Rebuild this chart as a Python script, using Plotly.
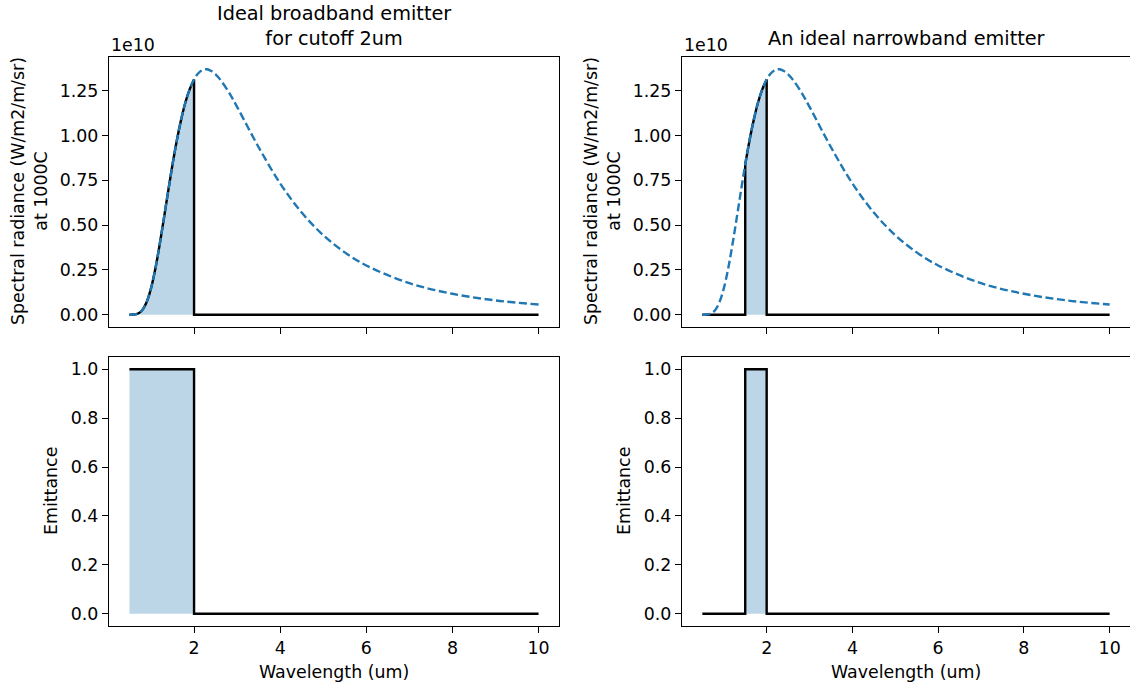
import plotly.graph_objects as go

# ---- data ----
wavelength = [0.5, 0.6, 0.7, 0.8, 0.9, 1.0, 1.1, 1.2, 1.3, 1.4, 1.5, 1.6, 1.7, 1.8, 1.9, 2.0,
              2.1, 2.2, 2.3, 2.4, 2.5, 2.6, 2.8, 3.0, 3.5, 4.0, 4.5, 5.0, 5.5, 6.0, 7.0, 8.0, 9.0, 10.0]
# spectral radiance in units of 1e10 W/m2/m/sr
radiance = [0.0001, 0.001, 0.0069, 0.0266, 0.071, 0.147, 0.255, 0.389, 0.538, 0.691, 0.839, 0.973,
            1.089, 1.186, 1.259, 1.313, 1.348, 1.366, 1.370, 1.360, 1.342, 1.315, 1.245, 1.160,
            0.935, 0.733, 0.570, 0.444, 0.348, 0.275, 0.176, 0.117, 0.080, 0.057]

broad_band = [0.5, 2.0]     # emittance = 1 inside this band
narrow_band = [1.5, 2.0]
emit_on = 1.0
emit_off = 0.0
x_end = 10.0

titles = ["Ideal broadband emitter<br>for cutoff 2um", "An ideal narrowband emitter"]
top_yticks = [0, 0.25, 0.5, 0.75, 1.0, 1.25]
bot_yticks = [0, 0.2, 0.4, 0.6, 0.8, 1.0]
x_ticks = [2, 4, 6, 8, 10]

BLUE = "#1f77b4"
FILL = "#bcd6e8"
FONT = "DejaVu Sans"
FS = 17.4
FS_TITLE = 19.3
LW = 2.4
W, H = 1130, 688

fig = go.Figure()


def band_curve(lo, hi):
    xs = [x for x in wavelength if lo <= x <= hi]
    ys = [y for x, y in zip(wavelength, radiance) if lo <= x <= hi]
    return xs, ys


for col, band in enumerate([broad_band, narrow_band]):
    xa_top = "x%d" % (col + 1) if col else "x"
    ya_top = "y%d" % (col + 1) if col else "y"
    xa_bot = "x%d" % (col + 3)
    ya_bot = "y%d" % (col + 3)
    lo, hi = band
    bx, by = band_curve(lo, hi)
    # top: fill under emitted radiance
    fig.add_trace(go.Scatter(x=bx, y=by, mode="lines", line=dict(width=0, shape="spline"),
                             fill="tozeroy", fillcolor=FILL, xaxis=xa_top, yaxis=ya_top,
                             showlegend=False, hoverinfo="skip"))
    # top: black emitted radiance
    if lo > wavelength[0]:
        fig.add_trace(go.Scatter(x=[wavelength[0], lo, lo], y=[emit_off, emit_off, by[0]],
                                 mode="lines", line=dict(color="black", width=LW),
                                 xaxis=xa_top, yaxis=ya_top, showlegend=False))
    fig.add_trace(go.Scatter(x=bx, y=by, mode="lines",
                             line=dict(color="black", width=LW, shape="spline"),
                             xaxis=xa_top, yaxis=ya_top, showlegend=False))
    fig.add_trace(go.Scatter(x=[hi, hi, x_end], y=[by[-1], emit_off, emit_off], mode="lines",
                             line=dict(color="black", width=LW),
                             xaxis=xa_top, yaxis=ya_top, showlegend=False))
    # top: blackbody dashed
    fig.add_trace(go.Scatter(x=wavelength, y=radiance, mode="lines",
                             line=dict(color=BLUE, width=LW, shape="spline", dash="8px,3.6px"),
                             xaxis=xa_top, yaxis=ya_top, showlegend=False))
    # bottom: emittance fill + step
    fig.add_trace(go.Scatter(x=[lo, hi], y=[emit_on, emit_on], mode="lines", line=dict(width=0),
                             fill="tozeroy", fillcolor=FILL, xaxis=xa_bot, yaxis=ya_bot,
                             showlegend=False, hoverinfo="skip"))
    if lo > wavelength[0]:
        ex = [wavelength[0], lo, lo, hi, hi, x_end]
        ey = [emit_off, emit_off, emit_on, emit_on, emit_off, emit_off]
    else:
        ex = [lo, hi, hi, x_end]
        ey = [emit_on, emit_on, emit_off, emit_off]
    fig.add_trace(go.Scatter(x=ex, y=ey, mode="lines", line=dict(color="black", width=LW),
                             xaxis=xa_bot, yaxis=ya_bot, showlegend=False))

xdom = [[109 / W, 559 / W], [682 / W, 1.0]]
ydom_top = [1 - 327 / H, 1 - 57 / H]
ydom_bot = [1 - 626 / H, 1 - 357 / H]

axis_common = dict(showline=True, mirror=True, linecolor="black", linewidth=1.3,
                   ticks="outside", ticklen=6, tickwidth=1.3, tickcolor="black",
                   showgrid=False, zeroline=False,
                   tickfont=dict(family=FONT, size=FS, color="black"))

layout = dict(width=W, height=H, margin=dict(l=0, r=0, t=0, b=0),
              plot_bgcolor="white", paper_bgcolor="white",
              font=dict(family=FONT, size=FS, color="black"))

names = [("xaxis", "yaxis"), ("xaxis2", "yaxis2"), ("xaxis3", "yaxis3"), ("xaxis4", "yaxis4")]
for i, (xn, yn) in enumerate(names):
    col = i % 2
    top = i < 2
    xref = "y" if i == 0 else "y%d" % (i + 1)
    yref = "x" if i == 0 else "x%d" % (i + 1)
    layout[xn] = dict(axis_common, domain=xdom[col], range=[0.025, 10.475], anchor=xref,
                      tickvals=x_ticks, showticklabels=not top)
    if top:
        layout[yn] = dict(axis_common, domain=ydom_top, range=[-0.0685, 1.4385], anchor=yref,
                          tickvals=top_yticks, tickformat=".2f")
    else:
        layout[yn] = dict(axis_common, domain=ydom_bot, range=[-0.05, 1.05], anchor=yref,
                          tickvals=bot_yticks, tickformat=".1f")

fig.update_layout(**layout)

ann = []
centers = [(109 + 559) / 2 / W, (682 + 1130) / 2 / W]
for col in range(2):
    ann.append(dict(text=titles[col], x=centers[col], y=1 - 52.5 / H, xref="paper", yref="paper",
                    xanchor="center", yanchor="bottom", showarrow=False,
                    font=dict(family=FONT, size=FS_TITLE, color="black")))
    ann.append(dict(text="1e10", x=xdom[col][0], y=1 - 57 / H, xref="paper", yref="paper",
                    xanchor="left", yanchor="bottom", showarrow=False,
                    font=dict(family=FONT, size=FS, color="black")))
    off = 573 * col
    ann.append(dict(text="Spectral radiance (W/m2/m/sr)<br>at 1000C", x=(30 + off) / W,
                    y=1 - 191 / H, xref="paper", yref="paper", xanchor="center",
                    yanchor="middle", textangle=-90, showarrow=False,
                    font=dict(family=FONT, size=FS, color="black")))
    ann.append(dict(text="Emittance", x=(51 + off) / W, y=1 - 491 / H, xref="paper",
                    yref="paper", xanchor="center", yanchor="middle", textangle=-90,
                    showarrow=False, font=dict(family=FONT, size=FS, color="black")))
    ann.append(dict(text="Wavelength (um)", x=centers[col], y=1 - 671.5 / H, xref="paper",
                    yref="paper", xanchor="center", yanchor="middle", showarrow=False,
                    font=dict(family=FONT, size=FS, color="black")))
fig.update_layout(annotations=ann)

fig.write_html("out.html")
